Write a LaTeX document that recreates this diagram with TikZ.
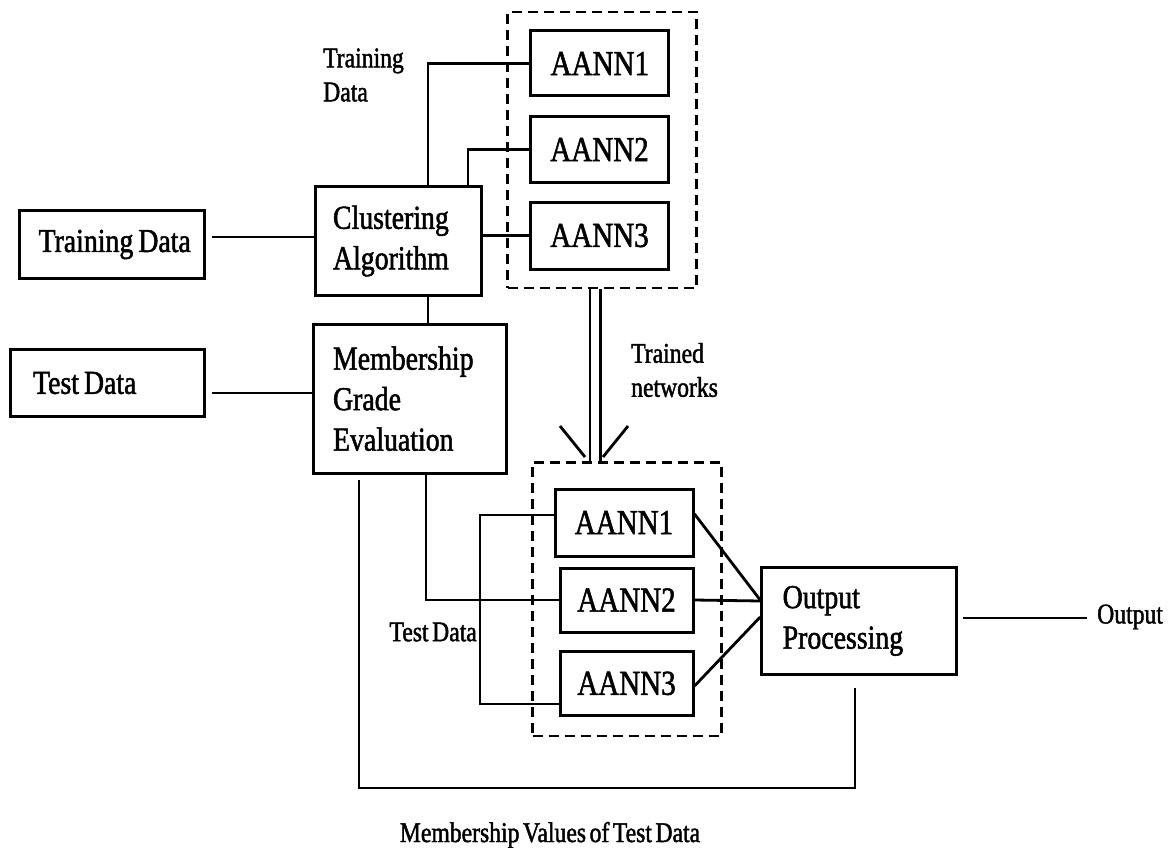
\documentclass[tikz,border=0pt]{standalone}
\usepackage{fontspec}
\setmainfont[FakeStretch=0.83,FakeBold=1.5,WordSpace=0.6]{Liberation Serif}
\usetikzlibrary{calc}
\newcommand{\bigf}{\fontsize{33.5}{40.5}\selectfont}
\newcommand{\aannf}{\fontsize{35}{40}\selectfont}
\newcommand{\smallf}{\fontsize{28.5}{34}\selectfont}
\newcommand{\wsp}{\hspace{5pt}}
\begin{document}
\begin{tikzpicture}[x=1pt,y=-1pt,
  box/.style={draw, line width=3pt, inner ysep=0pt, font=\bigf},
  aann/.style={box, inner xsep=0pt, align=center, text width=138pt, minimum height=65pt, font=\aannf},
  grp/.style={draw, line width=2.8pt, dash pattern=on 10pt off 6pt, inner sep=0pt},
  wire/.style={line width=2.8pt},
  lab/.style={font=\smallf, inner sep=0pt, align=left}]
\useasboundingbox (0,0) rectangle (1170,848);

% dashed groups
\node[grp, minimum width=189pt, minimum height=276pt] (tg) at (602.2,150) {};
\node[grp, minimum width=189pt, minimum height=273.3pt] (bg) at (627.2,599.35) {};

% boxes
\node[box, minimum width=185.3pt, minimum height=67.6pt, text width=185.3pt, inner xsep=0pt, align=center] (trd) at (111.7,244.5) {\hspace{6pt}Training\wsp Data};
\node[box, minimum width=194.3pt, minimum height=67.4pt, text width=148.3pt, inner xsep=23pt, align=left] (ted) at (107.2,383) {Test\wsp Data};
\node[box, minimum width=166pt, minimum height=108.3pt, text width=130pt, inner xsep=18pt, align=left] (clu) at (398,241) {Clustering\\Algorithm};
\node[box, minimum width=192.7pt, minimum height=149.3pt, text width=153.3pt, inner xsep=19.7pt, align=left] (mem) at (409.7,398.7) {Membership\\Grade\\Evaluation};
\node[aann] (a1) at (599.9,63.5) {AANN1};
\node[aann] (a2) at (599.5,149.5) {AANN2};
\node[aann, minimum height=67pt] (a3) at (599.5,235.5) {AANN3};
\node[aann, minimum height=67pt] (b1) at (624,522.5) {AANN1};
\node[aann, text width=133pt, minimum height=64pt] (b2) at (626.5,600) {AANN2};
\node[aann, text width=133pt, minimum height=63.3pt] (b3) at (626.5,683.4) {AANN3};
\node[box, minimum width=195pt, minimum height=106.3pt, text width=153pt, inner xsep=21pt, align=left] (out) at (859.2,620.9) {Output\\Processing};

% labels
\node[lab, anchor=west] (ltd) at (323,75) {Training\\Data};
\node[lab, anchor=west] (ltn) at (631,370) {Trained\\networks};
\node[lab, anchor=east] (ltt) at (477,632) {Test Data};
\node[lab, anchor=west] (lout) at (1097,617) {Output};
\node[lab] (lmv) at (550,835) {Membership Values of Test Data};

% coordinates
\coordinate (tdc) at (480,704);
\coordinate (bc) at (855,788);
\coordinate (oe) at (1087,618);
\coordinate (al1) at (560,426); \coordinate (al2) at (585,457);
\coordinate (ar1) at (628,426); \coordinate (ar2) at (603,457);

% connectors
\draw[wire] ($(trd.east |- 0,237)+(6,0)$) -- (clu.west |- 0,237);
\draw[wire] ($(ted.east |- 0,393)+(6,0)$) -- (mem.west |- 0,393);
\draw[wire] (clu.north -| 428,0) |- (a1.west);
\draw[wire] (clu.north -| 468,0) |- (a2.west);
\draw[wire] (clu.east |- a3.west) -- (a3.west);
\draw[wire] (clu.south -| 428,0) -- (mem.north -| 428,0);
\draw[wire] (tg.south -| 590,0) -- (bg.north -| 590,0);
\draw[wire] (tg.south -| 600.5,0) -- (bg.north -| 600.5,0);
\draw[wire] (al1) -- (al2);
\draw[wire] (ar1) -- (ar2);
\draw[wire] (mem.south -| 426,0) |- (b2.west);
\draw[wire] (b1.west |- 0,515) -| (tdc) -- (b3.west |- tdc);
\draw[wire] (b1.east |- 0,514) -- (out.west |- 0,600);
\draw[wire] (b2.east) -- (out.west |- 0,601);
\draw[wire] (b3.east |- 0,686) -- (out.west |- 0,617);
\draw[wire] ($(out.east |- 0,618)+(5,0)$) -- (oe);
\draw[wire] ($(mem.south -| 359,0)+(0,5)$) |- (bc) -- ($(out.south -| bc)+(0,12)$);
\end{tikzpicture}
\end{document}
